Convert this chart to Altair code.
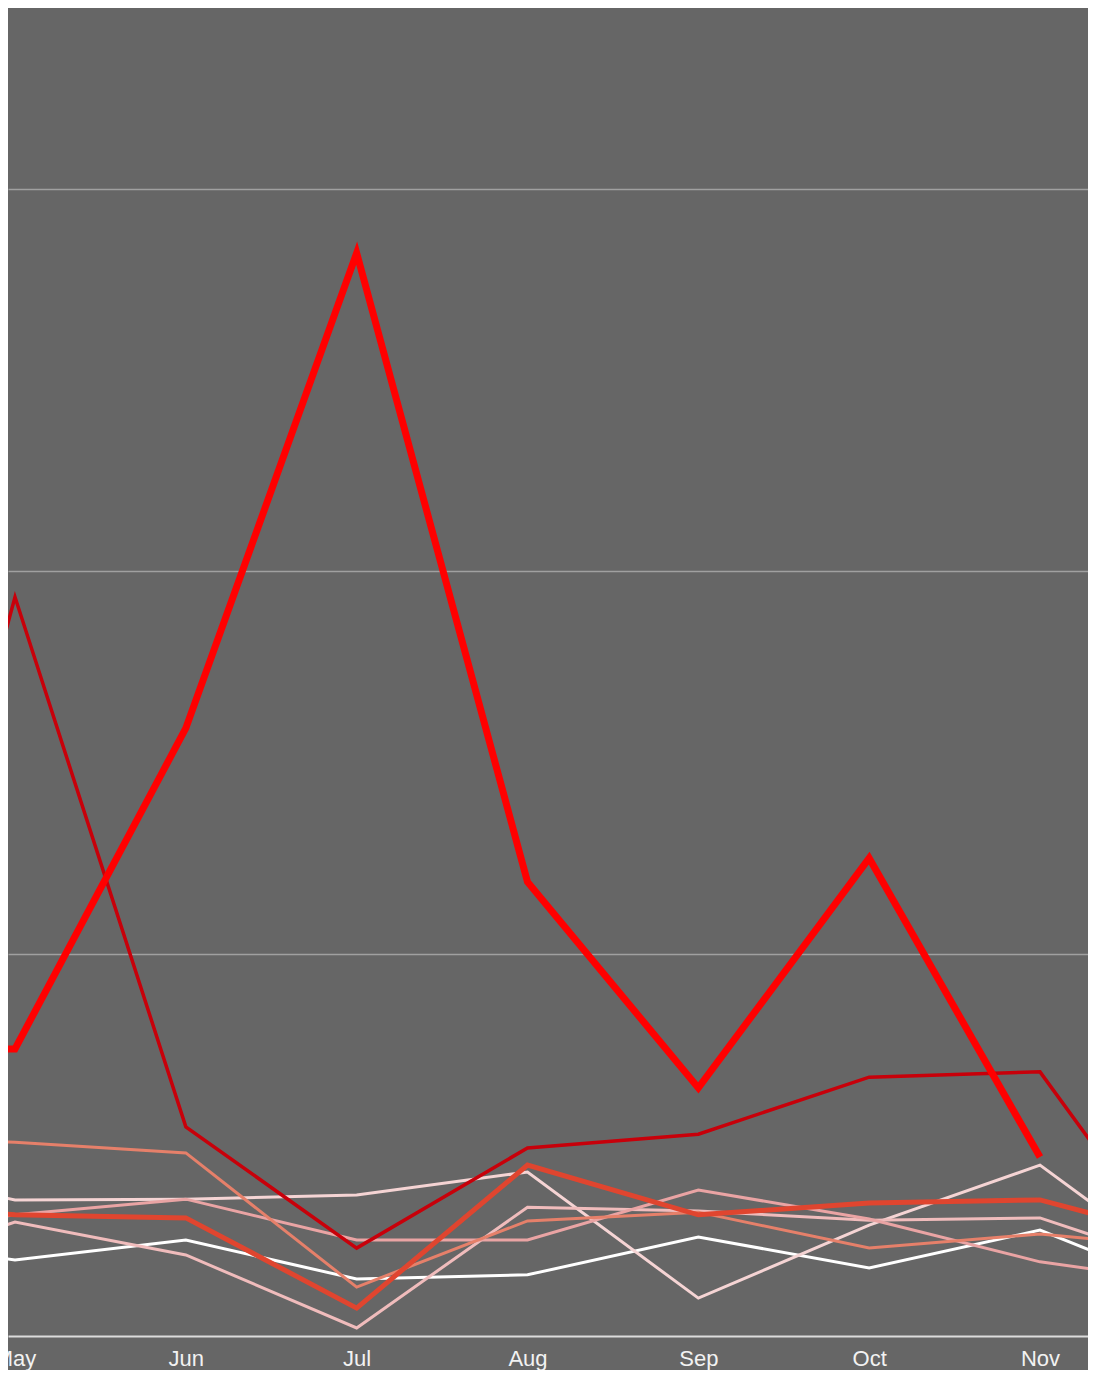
import altair as alt
import pandas as pd

# Month index 4 = Apr ... 12 = Dec (Apr and Dec lie just outside the visible window)
month_names = ["Apr", "May", "Jun", "Jul", "Aug", "Sep", "Oct", "Nov", "Dec"]
month_idx = [4, 5, 6, 7, 8, 9, 10, 11, 12]

# drawing order: first is drawn at the bottom
series_names = ["Series 8", "Series 7", "Series 6", "Series 5",
                "Series 4", "Series 3", "Series 2", "Series 1"]

s1 = [7.51, 7.51, 15.90, 28.33, 11.88, 6.49, 12.50, 4.68, None]
s2 = [2.75, 19.33, 5.47, 2.30, 4.92, 5.28, 6.77, 6.91, 0.78]
s3 = [3.56, 3.17, 3.09, 0.73, 4.47, 3.17, 3.48, 3.56, 2.38]
s4 = [5.18, 5.07, 4.79, 1.28, 3.01, 3.24, 2.30, 2.67, 2.25]
s5 = [2.56, 3.17, 3.58, 2.51, 2.51, 3.82, 3.06, 1.94, 1.31]
s6 = [1.49, 2.98, 2.12, 0.21, 3.37, 3.27, 3.03, 3.09, 1.60]
s7 = [4.45, 3.56, 3.58, 3.69, 4.29, 0.99, 2.90, 4.47, 1.18]
s8 = [2.59, 1.99, 2.51, 1.49, 1.60, 2.59, 1.78, 2.77, 0.97]

series_values = {
    "Series 1": s1, "Series 2": s2, "Series 3": s3, "Series 4": s4,
    "Series 5": s5, "Series 6": s6, "Series 7": s7, "Series 8": s8,
}
series_colors = {
    "Series 1": "#ff0000", "Series 2": "#c8000a", "Series 3": "#e0452f",
    "Series 4": "#e6806a", "Series 5": "#eaa4a4", "Series 6": "#f0bcbc",
    "Series 7": "#f5d4d4", "Series 8": "#ffffff",
}
series_widths = {
    "Series 1": 7, "Series 2": 3.5, "Series 3": 5, "Series 4": 3,
    "Series 5": 3, "Series 6": 3, "Series 7": 3, "Series 8": 3,
}

rows = []
for name in series_names:
    for m, v in zip(month_idx, series_values[name]):
        if v is not None:
            rows.append({"series": name, "month": m, "value": v})
df = pd.DataFrame(rows)

label_expr = "[" + ",".join("'%s'" % n for n in month_names) + "][datum.value - 4]"

x_enc = alt.X(
    "month:Q",
    scale=alt.Scale(domain=[4.959, 11.281], nice=False, zero=False),
    axis=alt.Axis(
        values=[5, 6, 7, 8, 9, 10, 11], labelExpr=label_expr, title=None,
        grid=False, ticks=False, domain=True, domainColor="#dcdcdc",
        domainWidth=2, labelColor="#f2f2f2", labelFontSize=22,
        labelFont="Liberation Sans", labelPadding=12, labelFlush=False,
    ),
)
y_enc = alt.Y(
    "value:Q",
    scale=alt.Scale(domain=[0, 34.74], nice=False, zero=True),
    axis=alt.Axis(
        values=[10, 20, 30], labels=False, ticks=False, domain=False,
        title=None, grid=True, gridColor="#a0a0a0", gridWidth=1.5,
    ),
)

base = alt.Chart(df)
layers = []
for name in series_names:
    layers.append(
        base.transform_filter(alt.datum.series == name)
        .mark_line(clip=True, strokeJoin="miter",
                   color=series_colors[name],
                   strokeWidth=series_widths[name])
        .encode(x=x_enc, y=y_enc)
    )

chart = alt.layer(*layers).properties(
    width=1080, height=1328,
    autosize=alt.AutoSizeParams(type="none"),
    padding={"left": 0, "top": 0, "right": 0, "bottom": 34},
    background="#666666",
).configure_view(fill="#666666", stroke=None)

chart.save("out.html", embed_options={"renderer": "svg", "actions": False})
